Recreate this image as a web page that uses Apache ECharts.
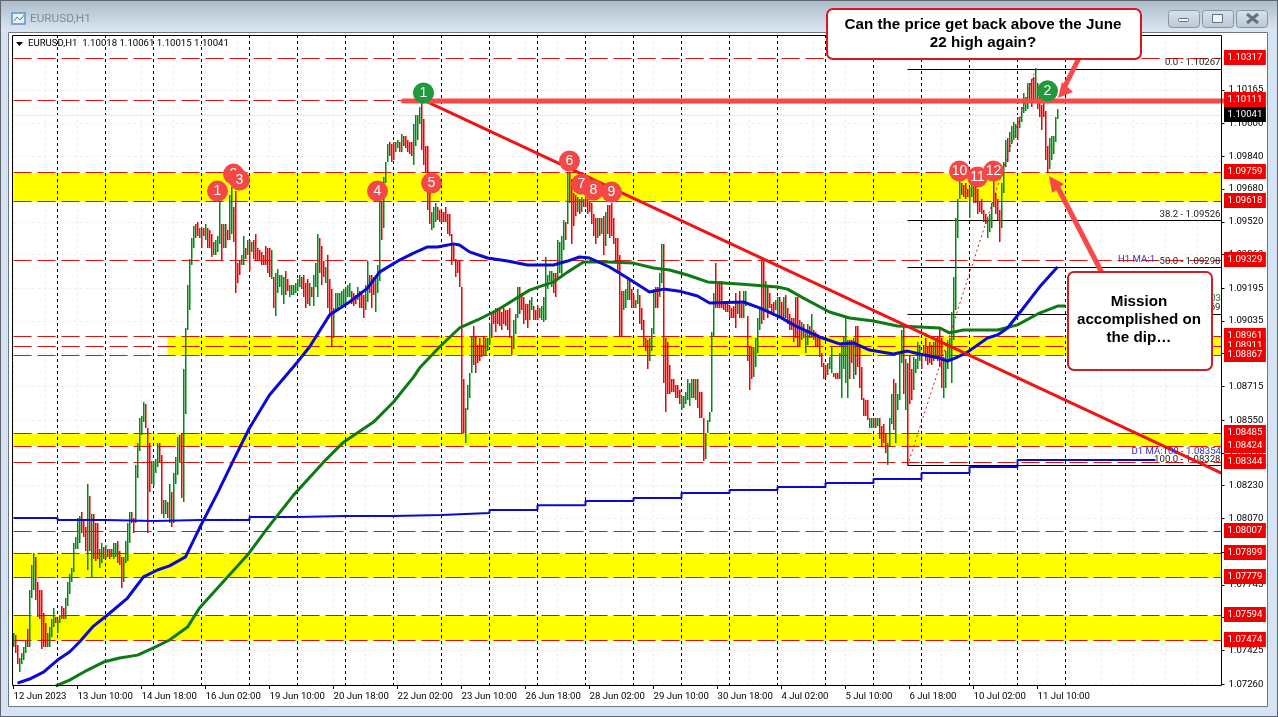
<!DOCTYPE html>
<html>
<head>
<meta charset="utf-8">
<title>EURUSD,H1</title>
<script src="https://cdn.jsdelivr.net/npm/echarts@6/dist/echarts.min.js"></script>
<style>
html, body { margin: 0; padding: 0; background: #d6e3f2; }
#chart { width: 1278px; height: 717px; }
</style>
</head>
<body>
<div id="chart"></div>
<script>
// hourly bars
var barHighs = [
1.0751,1.0750,1.0745,1.0739,1.0741,1.0744,1.0747,1.0753,1.0772,1.0784,
1.0790,1.0788,1.0776,1.0772,1.0772,1.0761,1.0756,1.0751,1.0754,1.0758,
1.0763,1.0759,1.0758,1.0760,1.0764,1.0763,1.0768,1.0776,1.0780,1.0783,
1.0795,1.0798,1.0807,1.0808,1.0810,1.0806,1.0803,1.0824,1.0818,1.0809,
1.0809,1.0805,1.0805,1.0792,1.0795,1.0793,1.0794,1.0792,1.0792,1.0792,
1.0795,1.0795,1.0796,1.0791,1.0788,1.0788,1.0796,1.0805,1.0810,1.0810,
1.0807,1.0833,1.0844,1.0856,1.0857,1.0864,1.0863,1.0851,1.0844,1.0835,
1.0835,1.0836,1.0844,1.0844,1.0838,1.0816,1.0816,1.0815,1.0824,1.0820,
1.0829,1.0837,1.0847,1.0848,1.0849,1.0880,1.0900,1.0921,1.0934,1.0944,
1.0950,1.0951,1.0952,1.0949,1.0949,1.0949,1.0951,1.0949,1.0948,1.0946,
1.0942,1.0943,1.0945,1.0962,1.0951,1.0951,1.0951,1.0948,1.0965,1.0969,
1.0959,1.0967,1.0932,1.0933,1.0936,1.0945,1.0939,1.0943,1.0943,1.0942,
1.0943,1.0946,1.0939,1.0938,1.0937,1.0936,1.0940,1.0939,1.0939,1.0938,
1.0925,1.0927,1.0929,1.0926,1.0926,1.0925,1.0928,1.0924,1.0921,1.0921,
1.0921,1.0922,1.0924,1.0926,1.0925,1.0926,1.0922,1.0924,1.0922,1.0920,
1.0926,1.0932,1.0946,1.0944,1.0940,1.0933,1.0930,1.0936,1.0924,1.0919,
1.0910,1.0917,1.0917,1.0917,1.0918,1.0919,1.0920,1.0921,1.0922,1.0918,
1.0917,1.0916,1.0920,1.0918,1.0917,1.0916,1.0921,1.0933,1.0926,1.0926,
1.0925,1.0925,1.0931,1.0963,1.0962,1.0974,1.0981,1.0990,1.0991,1.0990,
1.0991,1.0991,1.0992,1.0991,1.0995,1.0994,1.0994,1.0992,1.0991,1.0991,
1.1000,1.1004,1.1004,1.1008,1.1011,1.1002,1.0989,1.0989,1.0966,1.0957,
1.0959,1.0961,1.0959,1.0958,1.0957,1.0957,1.0959,1.0956,1.0956,1.0946,
1.0941,1.0934,1.0933,1.0933,1.0920,1.0875,1.0861,1.0872,1.0878,1.0896,
1.0901,1.0896,1.0892,1.0895,1.0892,1.0896,1.0895,1.0895,1.0902,1.0907,
1.0908,1.0910,1.0910,1.0909,1.0908,1.0910,1.0909,1.0909,1.0910,1.0896,
1.0904,1.0907,1.0920,1.0920,1.0917,1.0915,1.0912,1.0912,1.0914,1.0915,
1.0911,1.0909,1.0911,1.0910,1.0911,1.0915,1.0935,1.0926,1.0928,1.0928,
1.0927,1.0927,1.0943,1.0942,1.0945,1.0953,1.0952,1.0976,1.0976,1.0973,
1.0966,1.0965,1.0964,1.0963,1.0964,1.0963,1.0964,1.0963,1.0962,1.0961,
1.0956,1.0954,1.0954,1.0954,1.0954,1.0955,1.0957,1.0960,1.0960,1.0961,
1.0954,1.0944,1.0944,1.0936,1.0918,1.0918,1.0919,1.0924,1.0924,1.0919,
1.0916,1.0914,1.0919,1.0916,1.0910,1.0904,1.0895,1.0894,1.0895,1.0900,
1.0919,1.0920,1.0920,1.0927,1.0941,1.0941,1.0895,1.0893,1.0882,1.0875,
1.0875,1.0872,1.0872,1.0870,1.0867,1.0867,1.0869,1.0875,1.0873,1.0875,
1.0875,1.0875,1.0875,1.0869,1.0869,1.0856,1.0849,1.0855,1.0859,1.0898,
1.0917,1.0932,1.0922,1.0923,1.0923,1.0912,1.0912,1.0912,1.0911,1.0910,
1.0911,1.0917,1.0913,1.0918,1.0912,1.0918,1.0918,1.0906,1.0891,1.0891,
1.0891,1.0895,1.0905,1.0910,1.0933,1.0933,1.0923,1.0920,1.0917,1.0912,
1.0913,1.0914,1.0915,1.0915,1.0913,1.0915,1.0916,1.0910,1.0907,1.0905,
1.0905,1.0915,1.0915,1.0904,1.0903,1.0902,1.0899,1.0902,1.0901,1.0907,
1.0899,1.0898,1.0897,1.0895,1.0888,1.0883,1.0882,1.0883,1.0886,1.0891,
1.0878,1.0878,1.0878,1.0888,1.0893,1.0896,1.0905,1.0894,1.0894,1.0894,
1.0895,1.0901,1.0901,1.0891,1.0881,1.0866,1.0865,1.0865,1.0856,1.0856,
1.0856,1.0856,1.0856,1.0856,1.0852,1.0853,1.0849,1.0844,1.0856,1.0868,
1.0875,1.0873,1.0868,1.0888,1.0899,1.0901,1.0885,1.0883,1.0887,1.0880,
1.0886,1.0885,1.0893,1.0892,1.0888,1.0892,1.0895,1.0891,1.0893,1.0892,
1.0893,1.0895,1.0896,1.0900,1.0895,1.0886,1.0889,1.0893,1.0895,1.0908,
1.0925,1.0954,1.0963,1.0972,1.0971,1.0970,1.0971,1.0968,1.0969,1.0971,
1.0970,1.0969,1.0968,1.0962,1.0963,1.0958,1.0956,1.0954,1.0956,1.0961,
1.0972,1.0966,1.0963,1.0958,1.0971,1.0981,1.0992,1.0993,1.0996,1.0999,
1.1001,1.1000,1.1003,1.1003,1.1008,1.1015,1.1013,1.1020,1.1020,1.1022,
1.1023,1.1027,1.1020,1.1015,1.1009,1.1010,1.1006,1.0989,1.0993,1.0994,
1.0994,1.1003,1.1007
];
var barLows = [
1.0744,1.0741,1.0736,1.0732,1.0736,1.0738,1.0741,1.0744,1.0744,1.0768,
1.0772,1.0767,1.0759,1.0758,1.0743,1.0744,1.0744,1.0744,1.0744,1.0749,
1.0754,1.0756,1.0751,1.0756,1.0758,1.0758,1.0758,1.0764,1.0770,1.0776,
1.0781,1.0792,1.0792,1.0795,1.0800,1.0798,1.0791,1.0782,1.0791,1.0778,
1.0787,1.0786,1.0787,1.0783,1.0785,1.0787,1.0787,1.0788,1.0787,1.0788,
1.0787,1.0788,1.0785,1.0784,1.0773,1.0776,1.0785,1.0786,1.0795,1.0805,
1.0800,1.0805,1.0827,1.0840,1.0848,1.0854,1.0851,1.0800,1.0820,1.0824,
1.0823,1.0829,1.0832,1.0834,1.0809,1.0807,1.0809,1.0807,1.0805,1.0803,
1.0805,1.0824,1.0828,1.0834,1.0817,1.0815,1.0858,1.0899,1.0909,1.0931,
1.0939,1.0944,1.0945,1.0944,1.0939,1.0945,1.0943,1.0939,1.0939,1.0935,
1.0936,1.0936,1.0937,1.0941,1.0933,1.0939,1.0939,1.0943,1.0943,1.0946,
1.0942,1.0917,1.0922,1.0926,1.0931,1.0931,1.0934,1.0936,1.0928,1.0937,
1.0934,1.0933,1.0933,1.0933,1.0931,1.0931,1.0931,1.0927,1.0925,1.0924,
1.0910,1.0906,1.0917,1.0920,1.0916,1.0912,1.0916,1.0918,1.0915,1.0916,
1.0916,1.0917,1.0918,1.0920,1.0919,1.0915,1.0910,1.0912,1.0911,1.0915,
1.0911,1.0920,1.0915,1.0927,1.0921,1.0925,1.0922,1.0910,1.0907,1.0891,
1.0895,1.0908,1.0910,1.0911,1.0911,1.0912,1.0912,1.0915,1.0915,1.0912,
1.0911,1.0912,1.0914,1.0910,1.0910,1.0905,1.0909,1.0913,1.0917,1.0910,
1.0916,1.0908,1.0917,1.0923,1.0943,1.0949,1.0971,1.0981,1.0984,1.0981,
1.0982,1.0986,1.0988,1.0986,1.0986,1.0989,1.0988,1.0986,1.0985,1.0984,
1.0980,1.0989,1.0992,1.1000,1.0987,1.0980,1.0976,1.0958,1.0951,1.0948,
1.0949,1.0952,1.0953,1.0952,1.0952,1.0952,1.0952,1.0946,1.0945,1.0931,
1.0933,1.0925,1.0927,1.0920,1.0849,1.0849,1.0844,1.0860,1.0866,1.0878,
1.0882,1.0878,1.0883,1.0884,1.0886,1.0887,1.0887,1.0889,1.0892,1.0895,
1.0902,1.0898,1.0902,1.0901,1.0899,1.0902,1.0901,1.0899,1.0895,1.0887,
1.0890,1.0897,1.0905,1.0907,1.0909,1.0902,1.0904,1.0900,1.0904,1.0909,
1.0904,1.0904,1.0904,1.0905,1.0904,1.0903,1.0904,1.0919,1.0923,1.0920,
1.0917,1.0915,1.0924,1.0927,1.0925,1.0938,1.0943,1.0951,1.0961,1.0941,
1.0950,1.0955,1.0957,1.0956,1.0957,1.0959,1.0959,1.0956,1.0957,1.0951,
1.0945,1.0941,1.0944,1.0945,1.0946,1.0936,1.0940,1.0946,1.0944,1.0945,
1.0941,1.0932,1.0927,1.0896,1.0896,1.0909,1.0910,1.0914,1.0914,1.0910,
1.0910,1.0910,1.0912,1.0902,1.0899,1.0891,1.0889,1.0880,1.0884,1.0889,
1.0897,1.0910,1.0910,1.0915,1.0922,1.0873,1.0859,1.0868,1.0868,1.0869,
1.0869,1.0866,1.0866,1.0863,1.0860,1.0861,1.0863,1.0865,1.0862,1.0866,
1.0866,1.0865,1.0861,1.0856,1.0856,1.0835,1.0836,1.0849,1.0854,1.0859,
1.0896,1.0910,1.0910,1.0910,1.0910,1.0909,1.0908,1.0908,1.0905,1.0905,
1.0905,1.0900,1.0907,1.0905,1.0905,1.0905,1.0911,1.0884,1.0870,1.0875,
1.0876,1.0881,1.0888,1.0899,1.0902,1.0904,1.0909,1.0905,1.0910,1.0907,
1.0906,1.0909,1.0906,1.0905,1.0905,1.0905,1.0905,1.0902,1.0899,1.0899,
1.0893,1.0895,1.0891,1.0891,1.0894,1.0895,1.0888,1.0892,1.0895,1.0895,
1.0894,1.0891,1.0891,1.0886,1.0881,1.0875,1.0876,1.0877,1.0880,1.0878,
1.0876,1.0875,1.0875,1.0875,1.0866,1.0880,1.0873,1.0866,1.0875,1.0883,
1.0875,1.0877,1.0881,1.0871,1.0865,1.0857,1.0857,1.0855,1.0851,1.0851,
1.0851,1.0851,1.0852,1.0846,1.0842,1.0844,1.0839,1.0833,1.0842,1.0853,
1.0850,1.0844,1.0860,1.0865,1.0883,1.0868,1.0860,1.0833,1.0863,1.0865,
1.0870,1.0878,1.0880,1.0884,1.0880,1.0888,1.0884,1.0882,1.0883,1.0882,
1.0884,1.0885,1.0884,1.0881,1.0871,1.0866,1.0871,1.0880,1.0884,1.0873,
1.0894,1.0909,1.0944,1.0963,1.0965,1.0964,1.0963,1.0964,1.0954,1.0964,
1.0961,1.0961,1.0956,1.0957,1.0956,1.0952,1.0951,1.0944,1.0947,1.0949,
1.0959,1.0956,1.0953,1.0942,1.0949,1.0966,1.0979,1.0981,1.0986,1.0990,
1.0992,1.0993,1.0992,1.0998,1.1001,1.1005,1.1006,1.1007,1.1011,1.1008,
1.1011,1.1012,1.1007,1.1003,1.0997,1.1003,1.0982,1.0976,1.0978,1.0982,
1.0985,1.0991,1.1002
];
// 1 = green bar, 0 = red bar
var barDirs = [
1,0,0,1,1,1,1,0,1,1, 1,0,0,0,0,0,0,1,1,1, 1,0,1,1,0,0,1,1,1,1, 1,1,1,1,0,0,0,1,0,1,
0,0,0,1,1,0,1,0,0,1, 1,1,0,0,0,1,1,1,1,0, 0,1,1,1,1,1,0,0,0,1, 1,1,1,0,0,1,1,0,1,0,
1,1,1,0,0,1,1,1,1,1, 1,0,0,1,0,0,1,0,0,0, 1,1,1,1,0,1,0,0,1,1, 0,0,0,0,1,1,0,1,0,1,
0,0,0,0,0,0,0,0,0,1, 0,1,1,1,1,1,0,0,1,1, 1,1,1,1,0,0,0,0,1,0, 1,1,1,0,0,0,1,0,0,0,
1,1,1,1,1,1,1,1,1,0, 0,0,1,0,0,0,1,1,0,0, 0,1,1,1,0,1,1,1,0,0, 0,1,1,0,1,0,0,0,0,0,
1,1,1,1,0,0,0,0,0,1, 1,1,0,0,0,0,0,0,0,0, 0,0,0,0,0,0,1,1,1,1, 0,0,0,0,0,0,1,1,1,0,
0,0,0,0,0,0,0,0,0,0, 1,1,1,0,0,0,0,0,1,1, 0,0,0,1,1,1,1,1,1,1, 0,0,1,1,1,1,0,1,0,0,
0,0,1,0,1,0,0,0,0,0, 0,0,1,0,1,0,1,0,0,0, 0,0,0,0,0,1,1,1,0,0, 0,1,1,0,0,0,0,0,1,1,
1,0,0,1,1,0,0,0,0,0, 0,0,0,0,1,1,1,1,1,1, 0,1,0,0,0,0,1,1,1,1, 1,0,0,0,0,0,0,0,0,0,
0,0,1,0,0,1,1,0,0,0, 1,1,1,1,0,0,1,0,0,0, 0,1,1,0,0,1,0,0,0,0, 0,0,0,0,1,0,1,1,0,1,
0,0,0,0,0,0,0,1,1,1, 0,0,0,1,1,1,1,1,0,0, 1,0,0,0,0,0,0,0,1,1, 0,1,1,0,0,0,0,1,1,1,
0,1,1,1,1,0,1,0,0,0, 1,1,1,1,0,0,0,0,0,0, 1,0,0,0,0,1,1,1,1,1, 1,1,1,1,0,0,0,0,1,1,
0,0,0,0,0,0,0,1,1,1, 0,0,0,0,1,1,1,0,1,1, 1,1,0,1,1,1,1,1,0,0, 0,1,0,0,0,0,0,0,1,1,
1,1,1
];

var tickLabels = ['12 Jun 2023', '13 Jun 10:00', '14 Jun 18:00', '16 Jun 02:00', '19 Jun 10:00', '20 Jun 18:00',
    '22 Jun 02:00', '23 Jun 10:00', '26 Jun 18:00', '28 Jun 02:00', '29 Jun 10:00', '30 Jun 18:00',
    '4 Jul 02:00', '5 Jul 10:00', '6 Jul 18:00', '10 Jul 02:00', '11 Jul 10:00'];
var priceTicks = [1.10165, 1.10000, 1.09840, 1.09680, 1.09520, 1.09360, 1.09195, 1.09035, 1.08875, 1.08715,
    1.08550, 1.08390, 1.08230, 1.08070, 1.07905, 1.07745, 1.07585, 1.07425, 1.07260];

var levels = [1.10317, 1.10111, 1.09759, 1.09618, 1.09329, 1.08961, 1.08911, 1.08867, 1.08485, 1.08424,
    1.08344, 1.08007, 1.07899, 1.07779, 1.07594, 1.07474];
var lastPrice = 1.10041;
var zoneLow = [1.09618, 1.08867, 1.08424, 1.07779, 1.07474];
var zoneHigh = [1.09759, 1.08961, 1.08485, 1.07899, 1.07594];
var zoneStart = [0, 77, 0, 0, 0];
var daySeparators = [22, 46, 70, 94, 118, 142, 166, 190, 214, 238, 262, 286, 310, 334, 358, 382, 406, 430, 454, 478, 502, 526];

var fibValues = [1.10267, 1.09526, 1.09298, 1.09069, 1.08328];
var fibNames = ['0.0', '38.2', '50.0', '61.8', '100.0'];
var fibStart = 447;
var fibLowBar = 447;
var fibHighBar = 511;

var ma100Bars = [2,8,15,22,28,33,40,47,57,65,72,78,86,93,102,110,118,128,142,148,158,168,177,183,193,200,207,212,220,223,228,237,247,257,270,277,283,288,298,307,318,325,333,342,348,365,373,383,392,403,413,420,428,440,447,453,463,467,472,477,487,492,497,503,513,522];
var ma100Values = [1.07265,1.07285,1.07319,1.07378,1.07417,1.07466,1.07544,1.07598,1.07681,1.07784,1.07818,1.07838,1.07882,1.08023,1.08194,1.08355,1.08512,1.08673,1.08835,1.08908,1.09064,1.09128,1.09196,1.09274,1.09333,1.09367,1.09397,1.09397,1.09412,1.09407,1.09373,1.09343,1.09328,1.09309,1.09309,1.09328,1.09348,1.09343,1.09299,1.09245,1.09177,1.09191,1.09181,1.09157,1.09123,1.09128,1.09099,1.09055,1.09006,1.08957,1.08923,1.08928,1.08893,1.08874,1.08888,1.08874,1.08854,1.08839,1.08859,1.08883,1.08952,1.08967,1.09001,1.09074,1.09201,1.09299];
var ma200Bars = [21,28,37,45,53,62,70,78,87,93,107,117,127,140,155,165,180,190,200,203,213,223,232,242,258,270,277,285,297,310,320,328,337,347,363,382,387,395,408,418,430,442,453,463,468,475,492,502,513,522,526];
var ma200Values = [1.07250,1.07280,1.07329,1.07368,1.07388,1.07402,1.07437,1.07476,1.07539,1.07632,1.07784,1.07891,1.08023,1.08184,1.08345,1.08443,1.08541,1.08639,1.08761,1.08805,1.08908,1.09001,1.09040,1.09089,1.09186,1.09226,1.09274,1.09323,1.09323,1.09318,1.09294,1.09284,1.09260,1.09226,1.09216,1.09201,1.09191,1.09147,1.09079,1.09050,1.09035,1.09011,1.09006,1.09001,1.08977,1.08991,1.08991,1.09016,1.09074,1.09108,1.09108];
var d1MaBars = [0,22,46,70,94,118,142,166,190,214,238,262,286,310,334,358,382,406,430,454,478,502,571];
var d1MaValues = [1.08072,1.08062,1.08057,1.08062,1.08062,1.08077,1.08082,1.08082,1.08087,1.08096,1.08111,1.08135,1.08155,1.08170,1.08194,1.08209,1.08224,1.08243,1.08263,1.08292,1.08321,1.08356,1.08356];

var trendBars = [205, 604];
var trendValues = [1.10115, 1.08292];
var highLineBars = [195, 605];
var highLineValue = 1.10111;

var markerNames = ['1', '2', '3', '4', '5', '6', '7', '8', '9', '10', '11', '12', '1', '2'];
var markerBars = [102, 110, 113, 182, 209, 278, 284, 290, 299, 473, 482, 490, 205, 517];
var markerPrices = [1.09670, 1.09753, 1.09724, 1.09670, 1.09709, 1.09817, 1.09704, 1.09675, 1.09665, 1.09768, 1.09739, 1.09768, 1.10150, 1.10160];
var markerColors = ['#f44747', '#f44747', '#f44747', '#f44747', '#f44747', '#f44747', '#f44747', '#f44747', '#f44747', '#f44747', '#f44747', '#f44747', '#1f9a3a', '#1f9a3a'];

var uiFont = 'Roboto, "Liberation Sans", sans-serif';
var uiSize = 9.6;
var levelRed = '#d81414';
var softGrid = '#f3ece2';
var barGreen = '#008a10';
var barRed = '#f00000';

var myChart = echarts.init(document.getElementById('chart'), null, {renderer: 'canvas'});

var categories = [];
for (var i = 0; i < 605; i++) {
    categories.push(i % 32 == 0 && tickLabels[i / 32] ? tickLabels[i / 32] : '' + i);
}

var barData = [];
for (var i = 0; i < barHighs.length; i++) {
    barData.push([i, barLows[i], barHighs[i], barDirs[i]]);
}

// sticks a little wider than a pixel column so the colour holds up
var renderBar = function(params, api) {
    var low = api.coord([api.value(0), api.value(1)]);
    var high = api.coord([api.value(0), api.value(2)]);
    var x = Math.floor(low[0]);
    return {
        type: 'rect',
        shape: {x: x, y: Math.round(high[1]), width: 1.5, height: Math.max(1, Math.round(low[1]) - Math.round(high[1]))},
        style: {fill: api.value(3) == 1 ? barGreen : barRed}
    };
};

var pairs = function(xs, ys) {
    var out = [];
    for (var i = 0; i < xs.length; i++) out.push([xs[i], ys[i]]);
    return out;
};

// faint grid and day separators
var guideLines = [];
for (var i = 0; i < priceTicks.length; i++) {
    guideLines.push({yAxis: priceTicks[i], lineStyle: {color: softGrid, width: 1, type: [3, 3]}});
}
for (var i = 0; i < daySeparators.length; i++) {
    guideLines.push({xAxis: daySeparators[i], lineStyle: {color: '#000', width: 1, type: [3, 3]}});
}

var zones = [];
for (var i = 0; i < zoneLow.length; i++) {
    zones.push([{coord: [zoneStart[i], zoneHigh[i]]}, {coord: [604, zoneLow[i]]}]);
}

var fibLines = [];
for (var i = 0; i < fibValues.length; i++) {
    fibLines.push([
        {coord: [fibStart, fibValues[i]], label: {formatter: fibNames[i] + ' - ' + fibValues[i].toFixed(5)}},
        {coord: [604, fibValues[i]]}
    ]);
}

// level lines snapped to a pixel row, with the red price tag on the right
var levelData = [];
for (var i = 0; i < levels.length; i++) levelData.push([0, levels[i]]);
levelData.push([0, lastPrice]);

var renderLevel = function(params, api) {
    var rect = params.coordSys;
    var price = api.value(1);
    var y = Math.floor(api.coord([0, price])[1]) + 0.5;
    var isLast = params.dataIndex == levels.length;
    return {
        type: 'group',
        children: [
            {
                type: 'line',
                shape: {x1: rect.x, y1: y, x2: rect.x + rect.width, y2: y},
                style: isLast ? {stroke: '#efe6d8', lineWidth: 1} : {stroke: levelRed, lineWidth: 1, lineDash: [18, 6]}
            },
            {
                type: 'text', x: rect.x + rect.width + 2.5, y: y - 1,
                style: {
                    text: price.toFixed(5), fill: '#fff', backgroundColor: isLast ? '#000' : '#f00000',
                    font: uiSize + 'px ' + uiFont, align: 'left', verticalAlign: 'middle', padding: [3, 3.5, 2, 3.5]
                }
            }
        ]
    };
};

var seriesList = [
    {
        name: 'zones', type: 'line', z: 1, data: [], silent: true,
        markArea: {silent: true, z: 1, itemStyle: {color: '#ffff00'}, data: zones}
    },
    {
        name: 'guides', type: 'line', z: 1, data: [], silent: true,
        markLine: {silent: true, z: 1, symbol: 'none', precision: 5, label: {show: false}, data: guideLines}
    },
    {
        name: 'levels', type: 'custom', z: 1, silent: true, clip: false,
        encode: {x: 0, y: 1}, data: levelData, renderItem: renderLevel
    },
    {
        name: 'EURUSD', type: 'custom', z: 2, silent: true,
        encode: {x: 0, y: [1, 2]}, data: barData, renderItem: renderBar
    },
    {
        name: 'fib', type: 'line', z: 2, data: [], silent: true,
        markLine: {
            silent: true, z: 2, symbol: 'none', precision: 5,
            lineStyle: {color: '#000', width: 1, type: 'solid'},
            label: {position: 'insideEndTop', distance: 1, color: '#222', fontFamily: uiFont, fontSize: uiSize, padding: 0},
            data: fibLines
        }
    },
    {
        name: 'fib swing', type: 'line', z: 2, symbol: 'none', silent: true,
        lineStyle: {color: '#c81818', width: 1, type: [2, 3]},
        data: [[fibLowBar, fibValues[4]], [fibHighBar, fibValues[0]]]
    },
    {
        name: 'D1 MA', type: 'line', z: 3, symbol: 'none', step: 'end', silent: true,
        lineStyle: {color: '#0a0ad2', width: 2},
        data: pairs(d1MaBars, d1MaValues)
    },
    {
        name: 'H1 MA 200', type: 'line', z: 3, symbol: 'none', silent: true,
        lineStyle: {color: '#0f7a14', width: 3},
        data: pairs(ma200Bars, ma200Values)
    },
    {
        name: 'H1 MA 100', type: 'line', z: 3, symbol: 'none', silent: true,
        lineStyle: {color: '#0a0ad2', width: 3},
        data: pairs(ma100Bars, ma100Values)
    },
    {
        name: 'trend', type: 'line', z: 4, symbol: 'none', silent: true,
        lineStyle: {color: '#f01414', width: 3},
        data: pairs(trendBars, trendValues)
    },
    {
        name: 'june high', type: 'line', z: 4, symbol: 'none', silent: true, clip: false,
        lineStyle: {color: '#f84848', width: 5, cap: 'round'},
        data: [[highLineBars[0], highLineValue], [highLineBars[1], highLineValue]]
    }
];

// one series per circle, later ones cover the earlier ones
for (var i = 0; i < markerNames.length; i++) {
    seriesList.push({
        name: 'marker' + i, type: 'scatter', z: 5 + i, symbolSize: 21, silent: true,
        itemStyle: {color: markerColors[i], opacity: 1},
        label: {show: true, position: 'inside', formatter: markerNames[i], color: '#fff', fontFamily: 'Liberation Sans', fontSize: 14},
        data: [[markerBars[i], markerPrices[i]]]
    });
}

var textStyle = function(x, y, text, size, color, align, weight, font) {
    return {
        type: 'text', x: x, y: y, z: 90, silent: true,
        style: {text: text, fill: color, fontFamily: font || uiFont, fontSize: size, align: align || 'left', verticalAlign: 'middle', fontWeight: weight || 'normal'}
    };
};

var calloutText = function(x, y, text) {
    return {
        type: 'text', x: x, y: y, z: 102, silent: true,
        style: {text: text, fill: '#000', fontFamily: 'Liberation Sans', fontSize: 15.2, fontWeight: 'bold', align: 'center', verticalAlign: 'middle'}
    };
};

var barGradient = new echarts.graphic.LinearGradient(0, 0, 0, 1, [{offset: 0, color: '#aebccb'}, {offset: 1, color: '#dce7f3'}]);
var buttonGradient = new echarts.graphic.LinearGradient(0, 0, 0, 1, [{offset: 0, color: '#d8e2ec'}, {offset: 1, color: '#bac7d6'}]);

var windowButton = function(x, w) {
    return {type: 'rect', z: -1, silent: true, shape: {x: x + 0.5, y: 10.5, width: w, height: 17, r: 3}, style: {fill: buttonGradient, stroke: '#8696a8', lineWidth: 1}};
};

var graphics = [
    // window frame
    {type: 'rect', z: -3, silent: true, shape: {x: 0, y: 0, width: 1278, height: 717}, style: {fill: '#5e666e'}},
    {type: 'rect', z: -3, silent: true, shape: {x: 1, y: 1, width: 1276, height: 715}, style: {fill: '#d6e3f2'}},
    {type: 'rect', z: -3, silent: true, shape: {x: 1, y: 1, width: 1276, height: 31}, style: {fill: barGradient}},
    {type: 'rect', z: -2, silent: true, shape: {x: 8.5, y: 32.5, width: 1259, height: 674}, style: {fill: '#fff', stroke: '#6d7780', lineWidth: 1}},
    {type: 'rect', z: -1, silent: true, shape: {x: 12, y: 13, width: 13, height: 11}, style: {fill: '#e8f0f8', stroke: '#5b93c7', lineWidth: 1.5}},
    {type: 'polyline', z: -1, silent: true, shape: {points: [[14, 21], [17, 17], [20, 20], [24, 15]]}, style: {fill: 'none', stroke: '#4f8c7a', lineWidth: 1}},
    textStyle(30, 19, 'EURUSD,H1', 11.8, '#7d8b99', 'left', 'normal', 'Roboto'),
    windowButton(1168, 31),
    windowButton(1202, 31),
    windowButton(1236, 31),
    {type: 'rect', z: 0, silent: true, shape: {x: 1178.5, y: 18.5, width: 10, height: 3, r: 1}, style: {fill: '#eef3f8', stroke: '#66727f', lineWidth: 1}},
    {type: 'rect', z: 0, silent: true, shape: {x: 1212.5, y: 14.5, width: 10, height: 8}, style: {fill: '#eef3f8', stroke: '#66727f', lineWidth: 1}},
    {type: 'line', z: 0, silent: true, shape: {x1: 1247, y1: 14, x2: 1258, y2: 23}, style: {stroke: '#66727f', lineWidth: 3}},
    {type: 'line', z: 0, silent: true, shape: {x1: 1258, y1: 14, x2: 1247, y2: 23}, style: {stroke: '#66727f', lineWidth: 3}},
    // plot border
    {type: 'rect', z: 50, silent: true, shape: {x: 12.5, y: 35.5, width: 1209, height: 650}, style: {fill: 'none', stroke: '#000', lineWidth: 1}},
    // header
    {type: 'polygon', z: 90, silent: true, shape: {points: [[16, 42], [23, 42], [19.5, 46]]}, style: {fill: '#000'}},
    textStyle(28, 43.5, 'EURUSD,H1  1.10018 1.10061 1.10015 1.10041', uiSize, '#000'),
    // moving average tags
    textStyle(1118, 260, 'H1 MA:1', uiSize, '#3a2fc0'),
    textStyle(1221, 299, 'H1 MA:200 - 1.09103', uiSize, '#0f7a14', 'right'),
    textStyle(1221, 452, 'D1 MA:100 - 1.08354', uiSize, '#2a2ad0', 'right'),
    // arrows
    {type: 'line', z: 100, silent: true, shape: {x1: 1079, y1: 58, x2: 1063, y2: 90}, style: {stroke: '#f84848', lineWidth: 5}},
    {type: 'polygon', z: 100, silent: true, shape: {points: [[1058, 98], [1062, 82], [1073, 92]]}, style: {fill: '#f84848'}},
    {type: 'line', z: 100, silent: true, shape: {x1: 1102, y1: 273, x2: 1056, y2: 184}, style: {stroke: '#f84848', lineWidth: 5}},
    {type: 'polygon', z: 100, silent: true, shape: {points: [[1049, 176], [1052, 193], [1064, 184]]}, style: {fill: '#f84848'}},
    // callouts
    {type: 'rect', z: 101, silent: true, shape: {x: 827, y: 9, width: 314, height: 50, r: 6}, style: {fill: '#fff', stroke: '#e0141c', lineWidth: 2}},
    calloutText(983, 25, 'Can the price get back above the June'),
    calloutText(983, 43, '22 high again?'),
    {type: 'rect', z: 101, silent: true, shape: {x: 1068, y: 272, width: 144, height: 98, r: 6}, style: {fill: '#fff', stroke: '#c8222a', lineWidth: 2}},
    calloutText(1139, 302, 'Mission'),
    calloutText(1139, 320, 'accomplished on'),
    calloutText(1139, 338, 'the dip…')
];

var option = {
    animation: false,
    backgroundColor: 'transparent',
    grid: {left: 13.5, top: 35, width: 1208, height: 651, containLabel: false},
    xAxis: {
        type: 'category', data: categories, boundaryGap: false,
        axisLine: {show: false},
        axisTick: {
            length: 3, lineStyle: {color: '#000'},
            interval: function(index) { return index % 32 == 0 && index <= 512; }
        },
        axisLabel: {
            color: '#000', fontFamily: uiFont, fontSize: uiSize, margin: 6, align: 'left', hideOverlap: false,
            interval: function(index) { return index % 32 == 0 && index <= 512; }
        },
        splitLine: {show: true, interval: 15, lineStyle: {color: softGrid, width: 1, type: [3, 3]}}
    },
    yAxis: {
        type: 'value', position: 'right', scale: true, min: 1.07251, max: 1.10433,
        axisLine: {show: false},
        axisTick: {show: true, length: 3, customValues: priceTicks, lineStyle: {color: '#000'}},
        axisLabel: {
            color: '#000', fontFamily: uiFont, fontSize: uiSize, margin: 7, customValues: priceTicks,
            formatter: function(v) { return v.toFixed(5); }
        },
        splitLine: {show: false}
    },
    series: seriesList,
    graphic: {elements: graphics}
};

myChart.setOption(option);
</script>
</body>
</html>
